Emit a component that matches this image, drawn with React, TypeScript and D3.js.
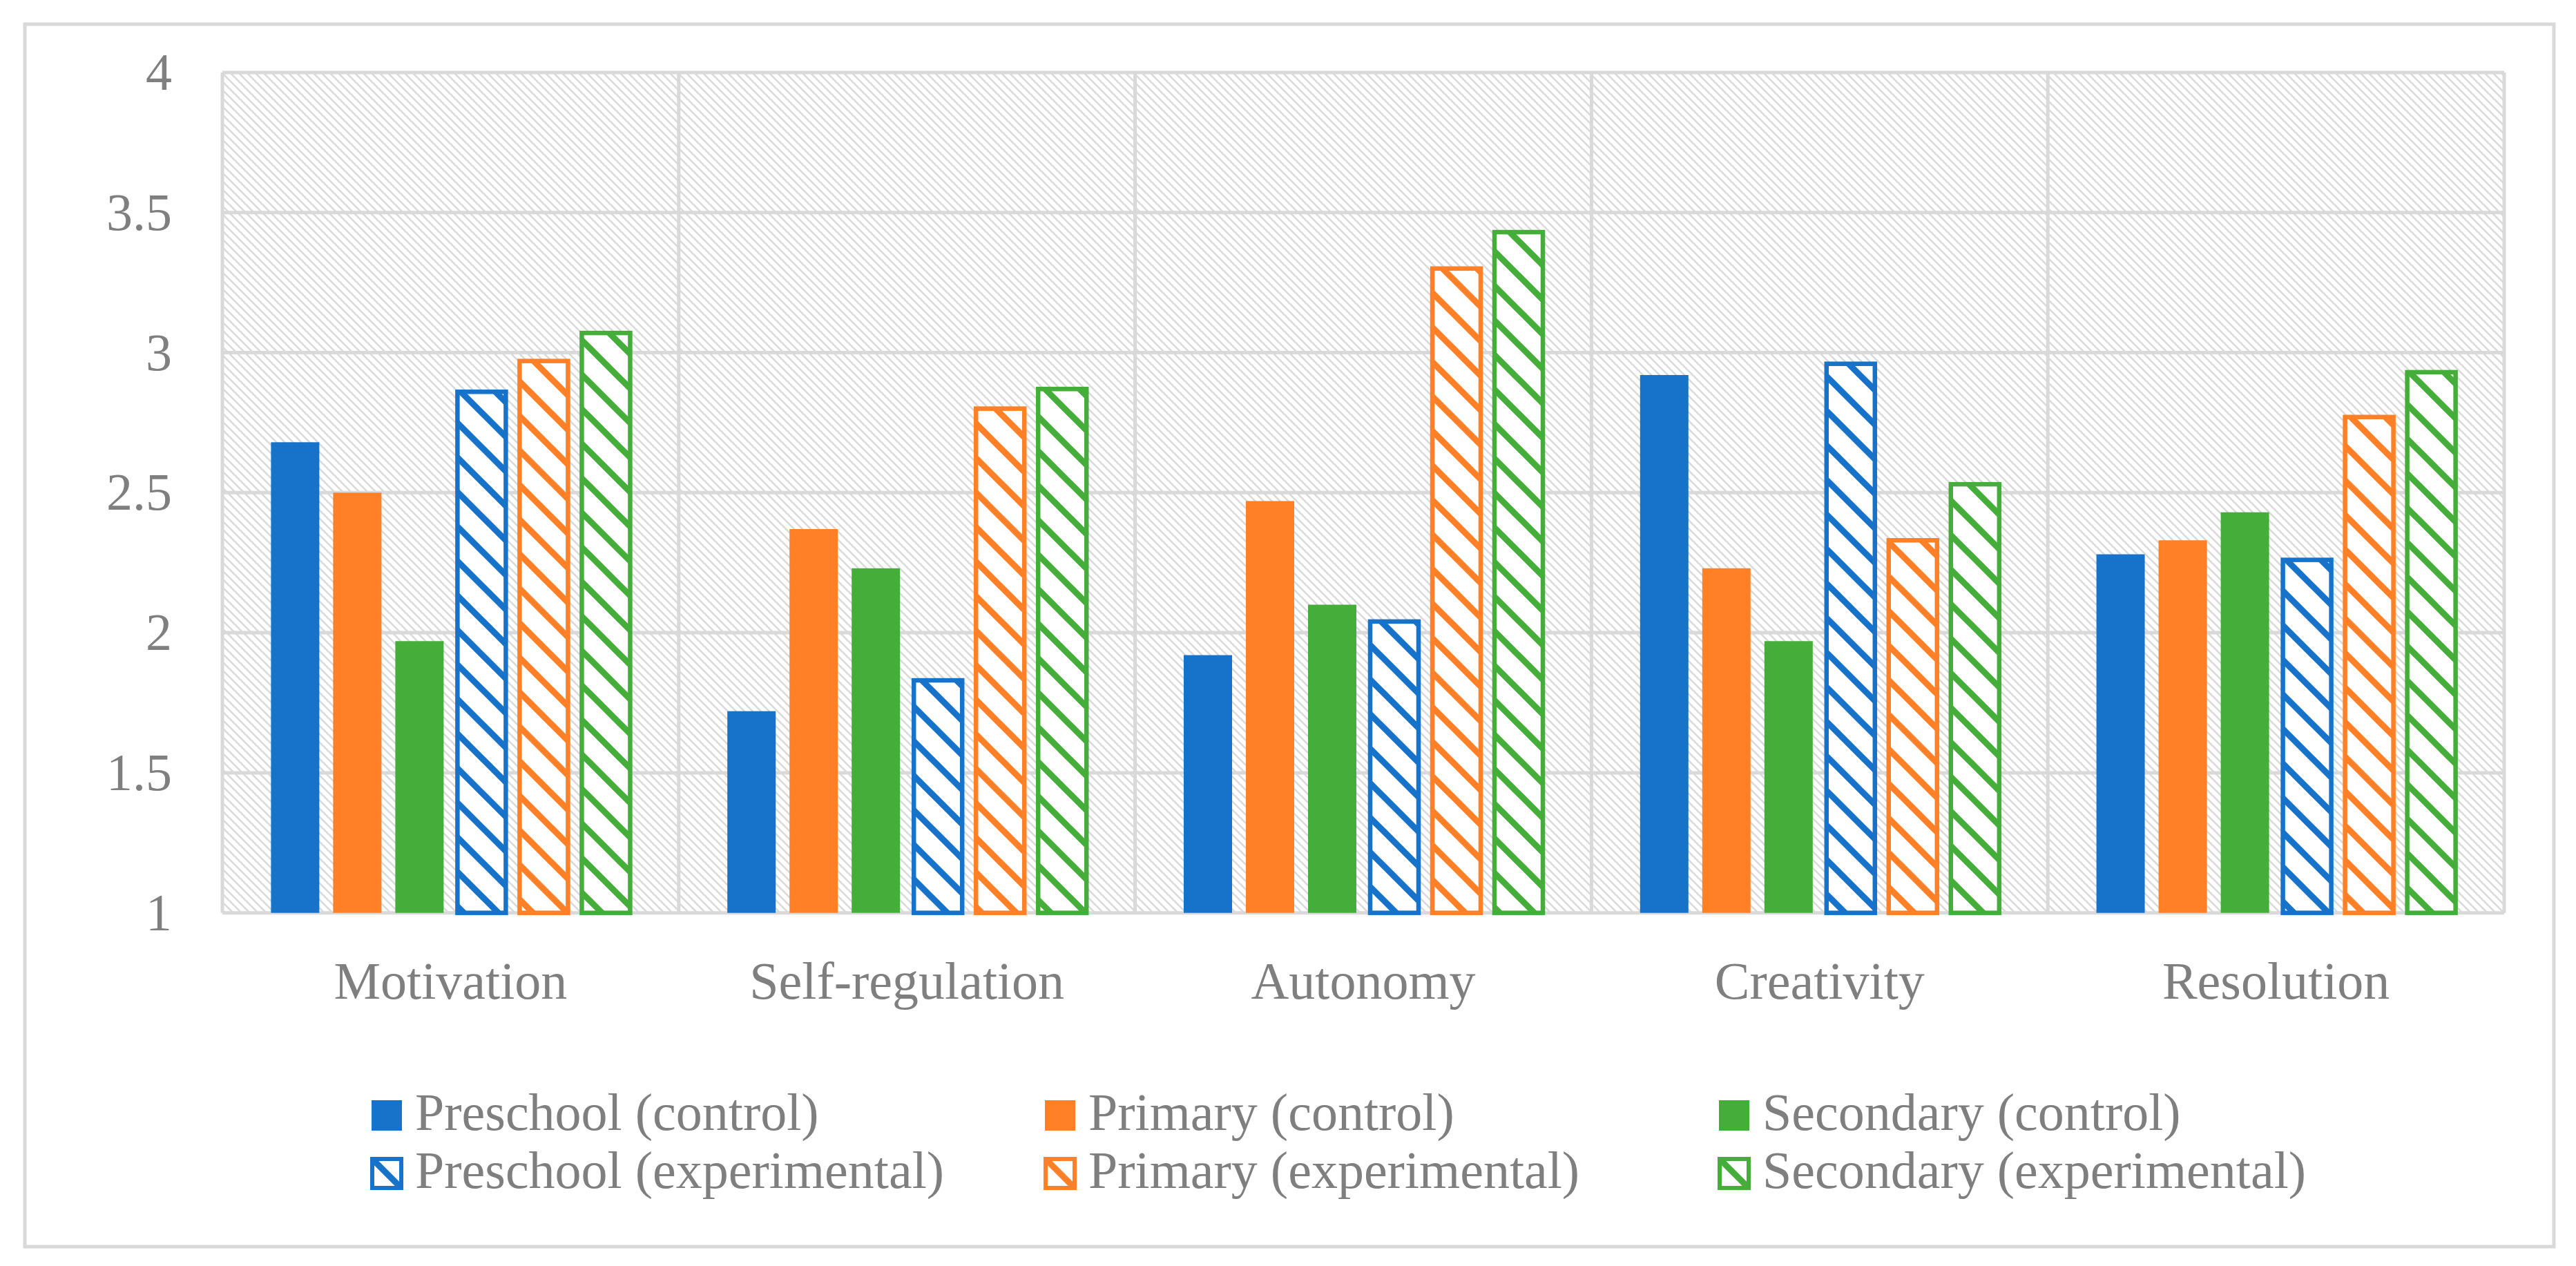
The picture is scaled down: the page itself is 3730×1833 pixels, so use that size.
import React, { useEffect, useRef } from 'react';
import * as d3 from 'd3';

const categories = ['Motivation', 'Self-regulation', 'Autonomy', 'Creativity', 'Resolution'];

const seriesNames = [
  'Preschool (control)',
  'Primary (control)',
  'Secondary (control)',
  'Preschool (experimental)',
  'Primary (experimental)',
  'Secondary (experimental)',
];

const preschoolControl = [2.68, 1.72, 1.92, 2.92, 2.28];
const primaryControl = [2.5, 2.37, 2.47, 2.23, 2.33];
const secondaryControl = [1.97, 2.23, 2.1, 1.97, 2.43];
const preschoolExperimental = [2.86, 1.83, 2.04, 2.96, 2.26];
const primaryExperimental = [2.97, 2.8, 3.3, 2.33, 2.77];
const secondaryExperimental = [3.07, 2.87, 3.43, 2.53, 2.93];

const yTicks = [1, 1.5, 2, 2.5, 3, 3.5, 4];

const seriesValues = [
  preschoolControl,
  primaryControl,
  secondaryControl,
  preschoolExperimental,
  primaryExperimental,
  secondaryExperimental,
];
const seriesColors = ['#1773c9', '#ff8027', '#45ae3a', '#1773c9', '#ff8027', '#45ae3a'];
const seriesHatched = [false, false, false, true, true, true];

const WIDTH = 3730;
const HEIGHT = 1833;
const FONT = "'Book Antiqua', 'Palatino Linotype', Palatino, 'Liberation Serif', serif";
const FONT_SIZE = 76;
const TEXT_COLOR = '#7f7f7f';
const GRID_COLOR = '#d9d9d9';

const App: React.FC = () => {
  const svgRef = useRef<SVGSVGElement>(null);

  useEffect(() => {
    document.body.style.margin = '0';
    document.body.style.overflow = 'hidden';
    if (!svgRef.current) return;

    const svg = d3.select(svgRef.current);
    svg.selectAll('*').remove();

    const plot = { left: 322, right: 3626, top: 104.9, bottom: 1321.7 };

    const x0 = d3.scaleBand<string>()
      .domain(categories)
      .range([plot.left, plot.right])
      .paddingInner(0)
      .paddingOuter(0);

    const x1 = d3.scaleBand<string>()
      .domain(seriesNames)
      .range([0, x0.bandwidth()])
      .paddingInner(2 / 9)
      .paddingOuter(0.782);

    const y = d3.scaleLinear()
      .domain([1, 4])
      .range([plot.bottom, plot.top]);

    const defs = svg.append('defs');

    // plot area background texture
    const bg = defs.append('pattern')
      .attr('id', 'bg-hatch')
      .attr('patternUnits', 'userSpaceOnUse')
      .attr('width', 12)
      .attr('height', 12);
    bg.append('rect').attr('width', 12).attr('height', 12).attr('fill', '#fff');
    bg.append('path')
      .attr('d', 'M-3,-3L15,15M9,-3L15,3M-3,9L3,15')
      .attr('stroke', GRID_COLOR)
      .attr('stroke-width', 2.5);

    // wide downward diagonal for experimental series
    const addHatch = (id: string, color: string, x = 0, yy = 0) => {
      const p = defs.append('pattern')
        .attr('id', id)
        .attr('patternUnits', 'userSpaceOnUse')
        .attr('x', x)
        .attr('y', yy)
        .attr('width', 50)
        .attr('height', 50);
      p.append('rect').attr('width', 50).attr('height', 50).attr('fill', '#fff');
      p.append('path')
        .attr('d', 'M-8,-8L58,58M42,-8L58,8M-8,42L8,58')
        .attr('stroke', color)
        .attr('stroke-width', 9);
    };
    seriesNames.forEach((s, i) => {
      if (seriesHatched[i]) addHatch(`hatch-${i}`, seriesColors[i]);
    });

    // outer chart border
    svg.append('rect')
      .attr('x', 36)
      .attr('y', 35)
      .attr('width', 3698 - 36)
      .attr('height', 1805 - 35)
      .attr('fill', '#fff')
      .attr('stroke', GRID_COLOR)
      .attr('stroke-width', 5);

    // plot background
    svg.append('rect')
      .attr('x', plot.left)
      .attr('y', plot.top)
      .attr('width', plot.right - plot.left)
      .attr('height', plot.bottom - plot.top)
      .attr('fill', 'url(#bg-hatch)');

    const g = svg.append('g');

    // horizontal gridlines
    g.selectAll('.hgrid')
      .data(yTicks)
      .enter()
      .append('line')
      .attr('x1', plot.left)
      .attr('x2', plot.right)
      .attr('y1', d => y(d))
      .attr('y2', d => y(d))
      .attr('stroke', GRID_COLOR)
      .attr('stroke-width', 5);

    // vertical category separators (incl. plot edges)
    const sepX = categories.map(c => x0(c) as number).concat([plot.right]);
    g.selectAll('.vgrid')
      .data(sepX)
      .enter()
      .append('line')
      .attr('x1', d => d)
      .attr('x2', d => d)
      .attr('y1', plot.top)
      .attr('y2', plot.bottom)
      .attr('stroke', GRID_COLOR)
      .attr('stroke-width', 5);

    // bars
    const bars = g.append('g');
    categories.forEach((cat, ci) => {
      seriesNames.forEach((s, si) => {
        const v = seriesValues[si][ci];
        const bx = (x0(cat) as number) + (x1(s) as number);
        const r = bars.append('rect')
          .attr('x', bx)
          .attr('y', y(v))
          .attr('width', x1.bandwidth())
          .attr('height', y(1) - y(v));
        if (seriesHatched[si]) {
          r.attr('fill', `url(#hatch-${si})`)
            .attr('stroke', seriesColors[si])
            .attr('stroke-width', 6.5);
        } else {
          r.attr('fill', seriesColors[si]);
        }
      });
    });

    // y axis labels
    g.selectAll('.ylab')
      .data(yTicks)
      .enter()
      .append('text')
      .attr('x', 249)
      .attr('y', d => y(d))
      .attr('dy', '0.33em')
      .attr('text-anchor', 'end')
      .attr('font-family', FONT)
      .attr('font-size', FONT_SIZE)
      .attr('fill', TEXT_COLOR)
      .text(d => String(d));

    // x axis labels
    g.selectAll('.xlab')
      .data(categories)
      .enter()
      .append('text')
      .attr('x', d => (x0(d) as number) + x0.bandwidth() / 2)
      .attr('y', 1446)
      .attr('text-anchor', 'middle')
      .attr('font-family', FONT)
      .attr('font-size', FONT_SIZE)
      .attr('fill', TEXT_COLOR)
      .text(d => d);

    // legend
    const legendCols = [538, 1513, 2489];
    const legendRows = [1615, 1699];
    seriesNames.forEach((s, i) => {
      const col = legendCols[i % 3];
      const cy = legendRows[Math.floor(i / 3)];
      if (seriesHatched[i]) {
        addHatch(`leg-hatch-${i}`, seriesColors[i], col + 1, cy - 21);
        g.append('rect')
          .attr('x', col + 1)
          .attr('y', cy - 21)
          .attr('width', 42)
          .attr('height', 42)
          .attr('fill', `url(#leg-hatch-${i})`)
          .attr('stroke', seriesColors[i])
          .attr('stroke-width', 6);
      } else {
        g.append('rect')
          .attr('x', col)
          .attr('y', cy - 22)
          .attr('width', 44)
          .attr('height', 44)
          .attr('fill', seriesColors[i]);
      }
      g.append('text')
        .attr('x', col + 63)
        .attr('y', cy + 21)
        .attr('font-family', FONT)
        .attr('font-size', FONT_SIZE)
        .attr('fill', TEXT_COLOR)
        .text(s);
    });
  }, []);

  return (
    <svg
      ref={svgRef}
      width={WIDTH}
      height={HEIGHT}
      style={{ position: 'absolute', left: 0, top: 0, background: '#fff' }}
    />
  );
};

export default App;
